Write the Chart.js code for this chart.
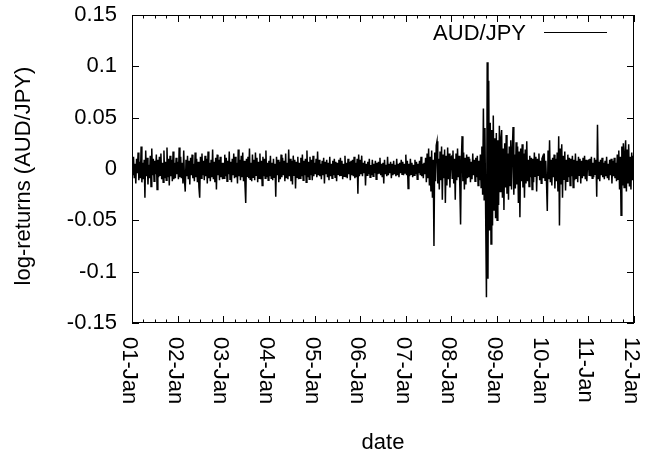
<!DOCTYPE html>
<html>
<head>
<meta charset="utf-8">
<script src="https://cdn.jsdelivr.net/npm/chart.js@4.4.1/dist/chart.umd.min.js"></script>
<style>
html,body{margin:0;padding:0;background:#fff;}
canvas{display:block;}
</style>
</head>
<body>
<canvas id="c" width="649" height="457"></canvas>
<script>
const seriesName = 'AUD/JPY';
const xAxisTitle = 'date';
const yAxisTitle = 'log-returns (AUD/JPY)';

const years = [2001, 2002, 2003, 2004, 2005, 2006, 2007, 2008, 2009, 2010, 2011];

const r2001 = [.008,-.006,.012,-.009,.005,-.014,.010,-.004,.016,-.011,.007,-.009,.022,-.013,.006,-.010,.009,-.028,.018,-.007,.011,-.015,.004,-.009,.013,-.017,.020,-.006,.010,-.012,.008,-.005,.014,-.020,.009,-.008,.012,-.006,.015,-.010,.006,-.013,.018,-.009,.007,-.011,.021,-.008,.010,-.016,.013,-.007,.009,-.012,.017,-.010,.006,-.009,.011,-.005];
const r2002 = [.007,-.010,.021,-.008,.012,-.009,.006,-.014,.018,-.011,-.022,.009,-.007,.013,-.010,.008,-.015,.011,-.006,.014,-.009,.005,-.012,.016,-.008,.010,-.013,.007,-.018,-.028,.012,-.009,.015,-.006,.008,-.011,.013,-.007,.010,-.014,.017,-.009,.006,-.012,.009,-.008,.019,-.010,.007,-.013,.011,-.020,.014,-.006,.009,-.011,.012,-.008,.006,-.010];
const r2003 = [.006,-.009,.014,-.007,.011,-.012,.008,-.005,.017,-.010,.007,-.013,.010,-.006,.015,-.009,.012,-.008,.006,-.014,.019,-.007,.009,-.011,.013,-.008,.016,-.012,.008,-.015,-.033,.010,-.007,.012,-.009,.020,-.010,.006,-.012,.014,-.008,.009,-.011,.016,-.006,.011,-.013,.007,-.009,.015,-.010,.008,-.016,.012,-.007,.010,-.009,.018,-.008,.006,-.011];
const r2004 = [.008,-.007,.013,-.009,.006,-.011,.010,-.008,.005,-.027,.012,-.006,.009,-.013,.007,-.010,.014,-.008,.011,-.006,.008,-.012,.015,-.009,.006,-.010,.019,-.007,.010,-.012,.008,-.015,.013,-.006,.009,-.019,.007,-.008,.012,-.010,.006,-.009,.011,-.007,.014,-.011,.008,-.006,.010,-.013,.018,-.008,.007,-.010,.012,-.006,.009,-.011,.013,-.007];
const r2005 = [.006,-.005,.010,-.008,.017,-.006,.009,-.007,.005,-.010,.008,-.006,.011,-.014,.007,-.005,.009,-.008,.006,-.011,.012,-.007,.005,-.009,.008,-.006,.010,-.008,.007,-.012,.006,-.005,.009,-.007,.011,-.006,.008,-.010,.005,-.007,.013,-.008,.006,-.009,.010,-.005,.007,-.011,.008,-.006,.009,-.007,.012,-.009,.006,-.008,.010,-.024,.014,-.007];
const r2006 = [.009,-.005,.013,-.007,.006,-.004,.008,-.016,.005,-.006,.007,-.005,.010,-.008,.004,-.006,.009,-.007,.005,-.004,.008,-.010,.006,-.005,.007,-.004,.011,-.006,.005,-.008,.006,-.014,.009,-.005,.004,-.007,.012,-.006,.005,-.004,.007,-.009,.005,-.006,.008,-.005,.004,-.007,.010,-.006,.005,-.008,.006,-.004,.009,-.005,.007,-.006,.005,-.004];
const r2007 = [.014,-.006,.008,-.019,.005,-.007,.010,-.005,.006,-.008,.004,-.006,.009,-.005,.007,-.010,.005,-.004,.008,-.006,.012,-.007,.005,-.009,.006,-.005,.011,-.013,.015,-.009,.020,-.016,.012,-.022,.018,-.028,.009,-.075,.016,-.012,.023,.027,-.014,.010,-.020,.017,-.011,.022,-.030,.014,-.009,.019,-.033,.013,-.016,.021,-.010,.015,-.018,.011];
const r2008 = [.012,-.009,.018,-.014,.010,-.030,.015,-.011,.020,-.008,.013,-.017,-.054,.009,.032,-.012,.016,-.020,.011,-.015,.014,-.009,.012,-.008,.010,-.013,.007,-.010,.015,-.006,.009,-.012,.011,-.008,.013,-.016,.008,-.011,.014,-.018,.022,-.025,.059,-.030,.040,-.045,-.125,.104,-.107,.086,-.060,.045,-.073,.038,-.055,.052,-.040,.030,-.048,.035];
const r2009 = [-.050,.028,-.035,.042,-.022,.030,.038,-.028,.020,-.040,.025,-.018,.033,-.024,.015,-.030,.022,-.016,.028,-.020,.018,.041,-.025,.014,-.019,.026,-.015,.022,-.033,.017,-.047,.020,-.012,.024,-.018,.015,-.028,.019,-.014,.027,-.012,.009,-.017,.013,-.008,.011,-.020,.010,-.013,.016,-.007,.012,-.022,.010,-.006,.015,-.011,.008,-.014,.010];
const r2010 = [.012,-.009,.015,-.011,.008,-.014,-.041,.018,-.010,.028,-.013,.009,-.016,.011,-.008,.014,-.019,.010,-.012,.016,-.022,.032,-.055,.020,-.015,.024,-.028,.013,-.010,.017,-.021,.009,-.012,.014,-.008,.011,-.016,.010,-.007,.013,-.018,.009,-.011,.015,-.009,.008,-.013,.012,-.006,.010,-.014,.008,-.009,.011,-.007,.013,-.010,.009,-.012,.007];
const r2011 = [.008,-.006,.010,-.007,.012,-.009,.006,-.008,.011,-.005,.009,-.027,.043,-.010,.007,-.012,.009,-.006,.011,-.008,.006,-.010,.008,-.007,.012,-.009,.005,-.011,.009,-.006,.010,-.014,.008,-.007,.011,-.009,.006,-.012,.014,-.010,.018,-.020,.012,-.045,.022,-.016,.025,-.018,.015,.028,-.022,.019,-.014,.024,-.017,.012,-.020,.016,-.011,.013];

const returnsByYear = [r2001, r2002, r2003, r2004, r2005, r2006, r2007, r2008, r2009, r2010, r2011];

const xTickValues = [2001, 2002, 2003, 2004, 2005, 2006, 2007, 2008, 2009, 2010, 2011, 2012];
const xTickLabels = ['01-Jan','02-Jan','03-Jan','04-Jan','05-Jan','06-Jan','07-Jan','08-Jan','09-Jan','10-Jan','11-Jan','12-Jan'];
const yTickValues = [-0.15, -0.1, -0.05, 0, 0.05, 0.1, 0.15];
const yTickLabels = ['-0.15', '-0.1', '-0.05', '0', '0.05', '0.1', '0.15'];

// points: each year's returns placed at evenly spaced dates within that year
const points = [];
years.forEach((yr, k) => {
  const arr = returnsByYear[k];
  arr.forEach((v, i) => points.push({ x: yr + i / arr.length, y: v }));
});

const FONT = 'Liberation Sans, Arial, sans-serif';
Chart.defaults.font.family = FONT;
Chart.defaults.font.size = 22;
Chart.defaults.color = '#000';

const decor = {
  id: 'decor',
  afterDraw(chart) {
    const { ctx, chartArea: a, scales: { x, y } } = chart;
    ctx.save();
    ctx.strokeStyle = '#000';
    ctx.lineWidth = 1;
    // ticks
    ctx.beginPath();
    yTickValues.forEach(v => {
      const py = Math.round(y.getPixelForValue(v)) + 0.5;
      ctx.moveTo(a.left, py); ctx.lineTo(a.left + 7, py);
      ctx.moveTo(a.right, py); ctx.lineTo(a.right - 7, py);
    });
    for (let yr = xTickValues[0]; yr < xTickValues[xTickValues.length - 1]; yr++) {
      for (let q = 1; q < 4; q++) {
        const px = Math.round(x.getPixelForValue(yr + q / 4)) + 0.5;
        ctx.moveTo(px, a.bottom); ctx.lineTo(px, a.bottom - 3.5);
        ctx.moveTo(px, a.top); ctx.lineTo(px, a.top + 3.5);
      }
    }
    xTickValues.forEach(v => {
      const px = Math.round(x.getPixelForValue(v)) + 0.5;
      ctx.moveTo(px, a.bottom); ctx.lineTo(px, a.bottom - 7);
      ctx.moveTo(px, a.top); ctx.lineTo(px, a.top + 7);
    });
    ctx.stroke();
    // frame
    ctx.strokeRect(a.left + 0.5, a.top + 0.5, a.right - a.left - 1, a.bottom - a.top - 1);

    ctx.fillStyle = '#000';
    ctx.font = '22px ' + FONT;
    // x tick labels rotated clockwise
    xTickValues.forEach((v, i) => {
      const px = x.getPixelForValue(v);
      ctx.save();
      ctx.translate(px - 9, a.bottom + 14);
      ctx.rotate(Math.PI / 2);
      ctx.textAlign = 'left';
      ctx.textBaseline = 'alphabetic';
      ctx.fillText(xTickLabels[i], 0, 0);
      ctx.restore();
    });
    // x title
    ctx.textAlign = 'center';
    ctx.textBaseline = 'alphabetic';
    ctx.fillText(xAxisTitle, (a.left + a.right) / 2, 449);
    // y title
    ctx.save();
    ctx.translate(29.5, 176);
    ctx.rotate(-Math.PI / 2);
    ctx.textAlign = 'center';
    ctx.textBaseline = 'alphabetic';
    ctx.fillText(yAxisTitle, 0, 0);
    ctx.restore();
    // legend
    const ds = chart.data.datasets[0];
    ctx.textAlign = 'right';
    ctx.textBaseline = 'alphabetic';
    ctx.fillText(ds.label, 526, 40);
    ctx.strokeStyle = ds.borderColor;
    ctx.lineWidth = 1;
    ctx.beginPath();
    ctx.moveTo(544, 32.5);
    ctx.lineTo(607, 32.5);
    ctx.stroke();
    ctx.restore();
  }
};

new Chart(document.getElementById('c'), {
  type: 'line',
  data: {
    datasets: [{
      label: seriesName,
      data: points,
      borderColor: '#000',
      borderWidth: 1.5,
      pointRadius: 0,
      tension: 0,
      fill: false
    }]
  },
  options: {
    responsive: false,
    animation: false,
    devicePixelRatio: 1,
    layout: { padding: { top: 15, right: 15, left: 0, bottom: 0 } },
    plugins: { legend: { display: false }, tooltip: { enabled: false } },
    scales: {
      x: {
        type: 'linear',
        min: xTickValues[0],
        max: xTickValues[xTickValues.length - 1],
        grid: { display: false, drawTicks: false },
        border: { display: false },
        ticks: { display: false },
        afterFit: s => { s.height = 134; s.paddingLeft = 0; s.paddingRight = 0; }
      },
      y: {
        min: yTickValues[0],
        max: yTickValues[yTickValues.length - 1],
        grid: { display: false, drawTicks: false },
        border: { display: false },
        afterBuildTicks: s => { s.ticks = yTickValues.map(v => ({ value: v })); },
        ticks: {
          autoSkip: false,
          padding: 15,
          color: '#000',
          font: { size: 22, family: FONT },
          callback: (v, i) => yTickLabels[i]
        },
        afterFit: s => { s.width = 132; s.paddingTop = 0; s.paddingBottom = 0; }
      }
    }
  },
  plugins: [decor]
});
</script>
</body>
</html>
